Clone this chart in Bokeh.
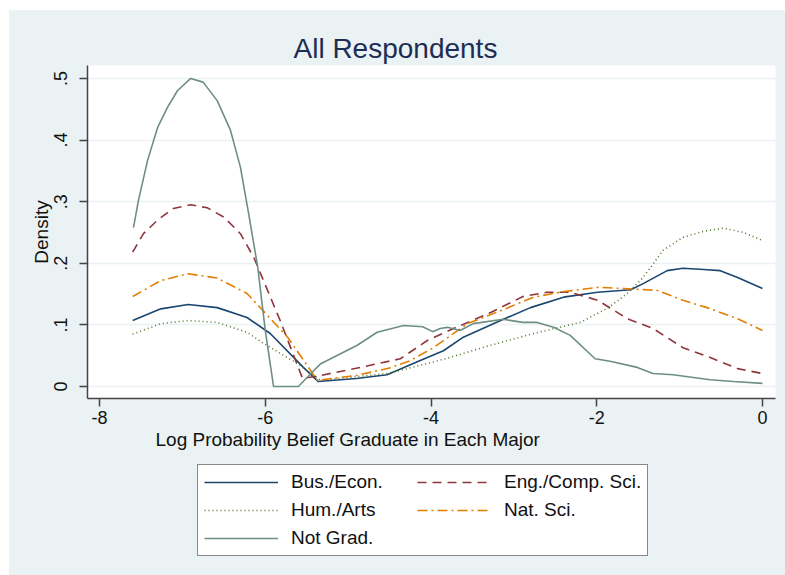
from bokeh.plotting import figure
from bokeh.layouts import column
from bokeh.models import (Range1d, FixedTicker, Legend, LegendItem, Title)
from bokeh.embed import file_html
from bokeh.resources import INLINE

# ---- data ----
bus_x = [-7.6, -7.26, -6.93, -6.58, -6.22, -5.94, -5.54, -5.36, -4.9, -4.53, -4.13, -3.85, -3.61,
         -3.16, -2.8, -2.4, -1.99, -1.59, -1.44, -1.15, -0.96, -0.71, -0.51, -0.3, 0.0]
bus_y = [0.107, 0.126, 0.133, 0.128, 0.112, 0.086, 0.031, 0.008, 0.013, 0.019, 0.042, 0.058, 0.080,
         0.107, 0.128, 0.145, 0.153, 0.157, 0.167, 0.188, 0.192, 0.190, 0.188, 0.177, 0.159]

eng_x = [-7.6, -7.47, -7.3, -7.11, -6.9, -6.7, -6.5, -6.3, -6.14, -5.82, -5.55, -5.33, -4.85,
         -4.37, -4.04, -3.73, -3.28, -2.89, -2.6, -2.32, -1.99, -1.63, -1.32, -0.96, -0.63,
         -0.3, 0.0]
eng_y = [0.218, 0.248, 0.270, 0.289, 0.295, 0.290, 0.275, 0.248, 0.210, 0.107, 0.013, 0.018, 0.031,
         0.045, 0.075, 0.094, 0.120, 0.146, 0.153, 0.153, 0.140, 0.110, 0.094, 0.063, 0.047,
         0.029, 0.021]

hum_x = [-7.6, -7.26, -6.93, -6.58, -6.22, -6.02, -5.61, -5.33, -4.9, -4.53, -4.2, -3.85, -3.28,
         -2.76, -2.2, -1.87, -1.63, -1.44, -1.2, -0.96, -0.71, -0.47, -0.23, 0.0]
hum_y = [0.085, 0.102, 0.107, 0.104, 0.088, 0.070, 0.037, 0.010, 0.016, 0.021, 0.032, 0.044, 0.067,
         0.086, 0.104, 0.127, 0.151, 0.177, 0.221, 0.242, 0.252, 0.257, 0.250, 0.237]

nat_x = [-7.6, -7.26, -6.93, -6.58, -6.22, -6.06, -5.73, -5.37, -4.9, -4.5, -4.25, -3.97, -3.56,
         -3.16, -2.76, -2.4, -1.99, -1.68, -1.27, -0.96, -0.67, -0.3, 0.0]
nat_y = [0.146, 0.172, 0.183, 0.176, 0.151, 0.128, 0.080, 0.010, 0.018, 0.030, 0.042, 0.063, 0.102,
         0.123, 0.145, 0.154, 0.161, 0.159, 0.156, 0.140, 0.128, 0.110, 0.091]

notg_x = [-7.59, -7.53, -7.42, -7.3, -7.18, -7.06, -6.9, -6.75, -6.58, -6.42, -6.3, -6.2, -6.09,
          -6.0, -5.9, -5.6, -5.45, -5.33, -4.89, -4.65, -4.33, -4.1, -3.98, -3.89, -3.8, -3.65,
          -3.49, -3.13, -2.89, -2.72, -2.52, -2.32, -2.02, -1.84, -1.51, -1.32, -1.08, -0.63,
          -0.35, 0.0]
notg_y = [0.258, 0.302, 0.367, 0.420, 0.453, 0.480, 0.500, 0.494, 0.464, 0.416, 0.356, 0.280, 0.193,
          0.091, 0.000, 0.000, 0.021, 0.037, 0.067, 0.088, 0.099, 0.097, 0.089, 0.094, 0.096, 0.091,
          0.102, 0.109, 0.104, 0.104, 0.096, 0.083, 0.045, 0.041, 0.031, 0.021, 0.019, 0.011,
          0.008, 0.005]

labels = ["Bus./Econ.", "Eng./Comp. Sci.", "Hum./Arts", "Nat. Sci.", "Not Grad."]
x_ticks = [-8, -6, -4, -2, 0]
x_tick_labels = ["-8", "-6", "-4", "-2", "0"]
y_ticks = [0, 0.1, 0.2, 0.3, 0.4, 0.5]
y_tick_labels = ["0", ".1", ".2", ".3", ".4", ".5"]
title_text = "All Respondents"
x_label = "Log Probability Belief Graduate in Each Major"
y_label = "Density"

# ---- styling ----
BG = "#EAF2F3"
FONT = "Liberation Sans"
colors = ["#1A476F", "#90353B", "#55752F", "#E37E00", "#6E8E84"]
dashes = ["solid", "9 6", "1 3", "10 4 2 4", "solid"]

p = figure(width=776, height=445, output_backend="svg", toolbar_location=None,
           x_range=Range1d(-8.145, 0.157), y_range=Range1d(-0.0195, 0.521),
           min_border_left=78, min_border_right=10, min_border_top=55, min_border_bottom=57)
p.background_fill_color = "white"
p.border_fill_color = BG
p.outline_line_color = None

p.title.text = title_text
p.title.align = "left"
p.title.offset = 206
p.title.text_font = FONT
p.title.text_font_size = "28px"
p.title.text_font_style = "normal"
p.title.text_color = "#1E2D53"
p.title.standoff = 4

for ax in (p.xaxis[0], p.yaxis[0]):
    ax.axis_line_color = "#444444"
    ax.axis_line_width = 1.5
    ax.major_tick_line_color = "#444444"
    ax.major_tick_line_width = 1.5
    ax.major_tick_out = 8
    ax.major_tick_in = 0
    ax.minor_tick_line_color = None
    ax.major_label_text_font = FONT
    ax.major_label_text_font_size = "18px"
    ax.major_label_text_color = "#111111"

p.xaxis.ticker = FixedTicker(ticks=x_ticks)
p.xaxis.major_label_overrides = {t: s for t, s in zip(x_ticks, x_tick_labels)}
p.xaxis.major_label_standoff = 4
p.yaxis.ticker = FixedTicker(ticks=y_ticks)
p.yaxis.major_label_overrides = {t: s for t, s in zip(y_ticks, y_tick_labels)}
p.yaxis.major_label_orientation = "vertical"
p.yaxis.major_label_standoff = 12
p.yaxis.axis_label = y_label
p.yaxis.axis_label_text_font = FONT
p.yaxis.axis_label_text_font_size = "19px"
p.yaxis.axis_label_text_font_style = "normal"
p.yaxis.axis_label_text_color = "#111111"
p.yaxis.axis_label_standoff = 0

p.xgrid.visible = False
p.ygrid.grid_line_color = BG
p.ygrid.grid_line_width = 1.3

xl = Title(text=x_label, align="left", offset=68, standoff=0,
           text_font=FONT, text_font_size="19px", text_font_style="normal",
           text_color="#111111")
p.add_layout(xl, "below")

series = [(bus_x, bus_y), (eng_x, eng_y), (hum_x, hum_y), (nat_x, nat_y), (notg_x, notg_y)]
for (xs, ys), c, d in zip(series, colors, dashes):
    p.line(xs, ys, line_color=c, line_width=1.6, line_dash=d)

# ---- legend strip (separate figure below the plot; its series lie outside its view) ----
q = figure(width=776, height=120, output_backend="svg", toolbar_location=None,
           x_range=Range1d(10, 11), y_range=Range1d(10, 11),
           min_border_left=0, min_border_right=0, min_border_top=0, min_border_bottom=0)
q.background_fill_color = BG
q.border_fill_color = BG
q.outline_line_color = None
q.xaxis.visible = False
q.yaxis.visible = False
q.xgrid.visible = False
q.ygrid.visible = False

keys = []
for (xs, ys), c, d in zip(series, colors, dashes):
    keys.append(q.line(xs, ys, line_color=c, line_width=1.6, line_dash=d))

# legend fills column by column: first column Bus, Hum, Not Grad; second Eng, Nat
order = [0, 2, 4, 1, 3]
items = [LegendItem(label=labels[i], renderers=[keys[i]]) for i in order]
legend = Legend(items=items, ncols=2, location=(110, 19),
                background_fill_color="white", background_fill_alpha=1.0,
                border_line_color="#111111", border_line_width=1,
                label_text_font=FONT, label_text_font_size="19px", label_text_color="#111111",
                glyph_width=74, glyph_height=20, label_height=20, label_width=120,
                label_standoff=13, spacing=6, padding=6, margin=0)
q.add_layout(legend, "center")

layout = column(p, q, spacing=0, margin=(10, 0, 0, 9))
layout.styles = {"background-color": BG}
open("out.html", "w").write(file_html(layout, INLINE))
